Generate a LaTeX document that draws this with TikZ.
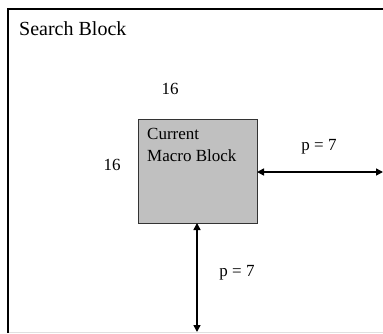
\documentclass[tikz,border=0pt]{standalone}
\usepackage{fontspec}
\setmainfont{Liberation Serif}
\usetikzlibrary{arrows.meta}
\definecolor{boxgray}{HTML}{C0C0C0}
\begin{document}
\begin{tikzpicture}[x=1pt,y=-1pt,
  frameline/.style={line width=2pt,black},
  mbox/.style={draw=black!80,fill=boxgray,line width=0.8pt},
  dimarrow/.style={line width=1.5pt,{Triangle[length=7pt,width=7pt]}-{Triangle[length=7pt,width=7pt]}},
  lbl/.style={font=\fontsize{17}{22}\selectfont,inner sep=0pt},
  ttl/.style={font=\fontsize{20}{24}\selectfont,inner sep=0pt,anchor=base west}]
\useasboundingbox (0,0) rectangle (383,333);
\fill[white] (0,0) rectangle (383,333);
% frame
\coordinate (tl) at (8,9);
\coordinate (tr) at (383,9);
\coordinate (bl) at (8,333);
\coordinate (gl) at (9,332);
\coordinate (gr) at (383,332);
\draw[black!12,line width=1pt] (gl) -- (gr);
\draw[frameline] (bl) -- (tl) -- (tr);
\node[ttl] (title) at (19,35) {Search Block};
% macro block
\path[mbox] (138,119) rectangle (257,223);
\coordinate (mbE) at (257,172);
\coordinate (mbS) at (197,223);
\node[lbl,anchor=base west,align=left] (mbtext) at (147,161) {Current\\Macro Block};
\node[lbl] (n16top) at (170,89) {16};
\node[lbl] (n16left) at (112,165) {16};
% arrows
\coordinate (aE) at (383,172);
\coordinate (aS) at (197,332);
\draw[dimarrow] (mbE) -- (aE);
\draw[dimarrow] (mbS) -- (aS);
\node[lbl] (p1) at (319,147) {p = 7};
\node[lbl] (p2) at (237,273) {p = 7};
\end{tikzpicture}
\end{document}
